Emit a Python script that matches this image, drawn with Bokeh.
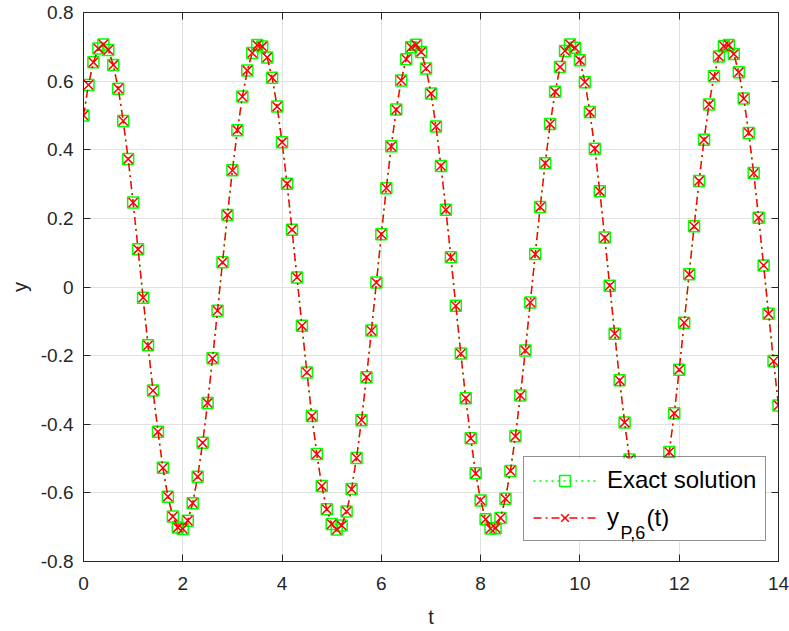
import numpy as np
from bokeh.plotting import figure
from bokeh.models import Range1d, LinearAxis, FixedTicker, Legend, LegendItem, Label, BoxAnnotation
from bokeh.embed import file_html
from bokeh.resources import INLINE

# ---- data ----
t_values = np.round(np.linspace(0.0, 14.0, 141), 1).tolist()

y_exact = [
    0.500, 0.589, 0.655, 0.695, 0.707, 0.691, 0.647, 0.578, 0.484, 0.373,
    0.246, 0.110, -0.031, -0.170, -0.302, -0.422, -0.527, -0.611, -0.669, -0.701,
    -0.705, -0.681, -0.630, -0.553, -0.454, -0.338, -0.208, -0.069, 0.072, 0.210,
    0.340, 0.457, 0.555, 0.631, 0.682, 0.705, 0.701, 0.669, 0.610, 0.526,
    0.422, 0.301, 0.167, 0.028, -0.113, -0.249, -0.376, -0.487, -0.580, -0.648,
    -0.691, -0.707, -0.695, -0.654, -0.589, -0.498, -0.388, -0.263, -0.127, 0.013,
    0.154, 0.288, 0.410, 0.517, 0.602, 0.664, 0.699, 0.706, 0.685, 0.637,
    0.564, 0.468, 0.353, 0.225, 0.087, -0.055, -0.194, -0.324, -0.441, -0.543,
    -0.622, -0.677, -0.704, -0.703, -0.673, -0.617, -0.536, -0.435, -0.316, -0.185,
    -0.045, 0.096, 0.233, 0.361, 0.475, 0.569, 0.641, 0.688, 0.707, 0.697,
    0.661, 0.597, 0.510, 0.403, 0.279, 0.144, 0.004, -0.136, -0.272, -0.395,
    -0.503, -0.593, -0.657, -0.697, -0.707, -0.691, -0.643, -0.576, -0.481, -0.368,
    -0.241, -0.104, 0.037, 0.177, 0.309, 0.429, 0.532, 0.614, 0.672, 0.702,
    0.705, 0.679, 0.626, 0.549, 0.449, 0.332, 0.202, 0.063, -0.078, -0.216,
    -0.345,
]
y_p6 = list(y_exact)

x_ticks = [0, 2, 4, 6, 8, 10, 12, 14]
y_ticks = [-0.8, -0.6, -0.4, -0.2, 0, 0.2, 0.4, 0.6, 0.8]
x_tick_labels = {0: "0", 2: "2", 4: "4", 6: "6", 8: "8", 10: "10", 12: "12", 14: "14"}
y_tick_labels = {-0.8: "-0.8", -0.6: "-0.6", -0.4: "-0.4", -0.2: "-0.2", 0: "0",
                 0.2: "0.2", 0.4: "0.4", 0.6: "0.6", 0.8: "0.8"}

FONT = "Liberation Sans"
AX = "#262626"

p = figure(width=789, height=631, output_backend="svg", toolbar_location=None,
           x_range=Range1d(0, 14), y_range=Range1d(-0.8, 0.8),
           min_border_left=83, min_border_right=11, min_border_top=12, min_border_bottom=70,
           x_axis_label="t", y_axis_label="y")
p.outline_line_color = AX
p.outline_line_width = 1

for ax in (p.xaxis[0], p.yaxis[0]):
    ax.axis_line_color = AX
    ax.major_tick_line_color = AX
    ax.major_tick_in = 7
    ax.major_tick_out = 0
    ax.minor_tick_line_color = None
    ax.major_label_text_font = FONT
    ax.major_label_text_font_size = "19px"
    ax.major_label_text_color = AX
    ax.axis_label_text_font = FONT
    ax.axis_label_text_font_size = "20px"
    ax.axis_label_text_font_style = "normal"
    ax.axis_label_text_color = AX

p.xaxis[0].ticker = FixedTicker(ticks=x_ticks)
p.yaxis[0].ticker = FixedTicker(ticks=y_ticks)
p.xaxis[0].major_label_overrides = x_tick_labels
p.yaxis[0].major_label_overrides = y_tick_labels
p.xaxis[0].major_label_standoff = 15
p.xaxis[0].axis_label_standoff = 13
p.yaxis[0].major_label_standoff = 10
p.yaxis[0].axis_label_standoff = 7

# inward ticks on the top and right edges (box on), drawn as label-less minor ticks
top_ax = LinearAxis(ticker=FixedTicker(ticks=[], minor_ticks=x_ticks),
                    major_tick_line_color=None, minor_tick_in=7, minor_tick_out=0,
                    minor_tick_line_color=AX, axis_line_color=AX)
right_ax = LinearAxis(ticker=FixedTicker(ticks=[], minor_ticks=y_ticks),
                      major_tick_line_color=None, minor_tick_in=7, minor_tick_out=0,
                      minor_tick_line_color=AX, axis_line_color=AX)
p.add_layout(top_ax, "above")
p.add_layout(right_ax, "right")

p.xgrid.ticker = FixedTicker(ticks=x_ticks)
p.ygrid.ticker = FixedTicker(ticks=y_ticks)
p.grid.grid_line_color = "#e1e1e1"
p.grid.grid_line_width = 1

GREEN = "#00ff00"
RED = "#ff0000"

l1 = p.line(t_values, y_exact, line_color=GREEN, line_width=1.5, line_dash="2 4")
m1 = p.scatter(t_values, y_exact, marker="square", size=11, fill_color=None,
               line_color=GREEN, line_width=1.5)
l2 = p.line(t_values, y_p6, line_color=RED, line_width=1.5, line_dash="8 4 2 4")
m2 = p.scatter(t_values, y_p6, marker="x", size=13, line_color=RED, line_width=1.5)

# white legend background drawn underneath (so the subscript texts can sit on it)
legend_bg = BoxAnnotation(left=523, right=764, top=458, bottom=541,
                          left_units="canvas", right_units="canvas",
                          top_units="canvas", bottom_units="canvas",
                          fill_color="#ffffff", fill_alpha=1.0, line_color=None)
p.add_layout(legend_bg)

legend = Legend(items=[LegendItem(label="Exact solution", renderers=[l1, m1]),
                       LegendItem(label="y", renderers=[l2, m2])],
                location=(440, 20), orientation="vertical",
                glyph_width=63, glyph_height=27, label_standoff=11,
                spacing=9, padding=9, margin=0,
                label_text_font=FONT, label_text_font_size="24px", label_text_color="#000000",
                border_line_color=AX, border_line_width=1, background_fill_alpha=0.0)
p.add_layout(legend, "center")

sub = Label(x=620, y=532, x_units="canvas", y_units="canvas", text="P,6",
            text_font=FONT, text_font_size="18px", text_color="#000000",
            text_baseline="alphabetic")
paren = Label(x=646, y=517, x_units="canvas", y_units="canvas", text="(t)",
              text_font=FONT, text_font_size="24px", text_color="#000000",
              text_baseline="middle")
p.add_layout(sub)
p.add_layout(paren)

open("out.html", "w").write(file_html(p, INLINE))
